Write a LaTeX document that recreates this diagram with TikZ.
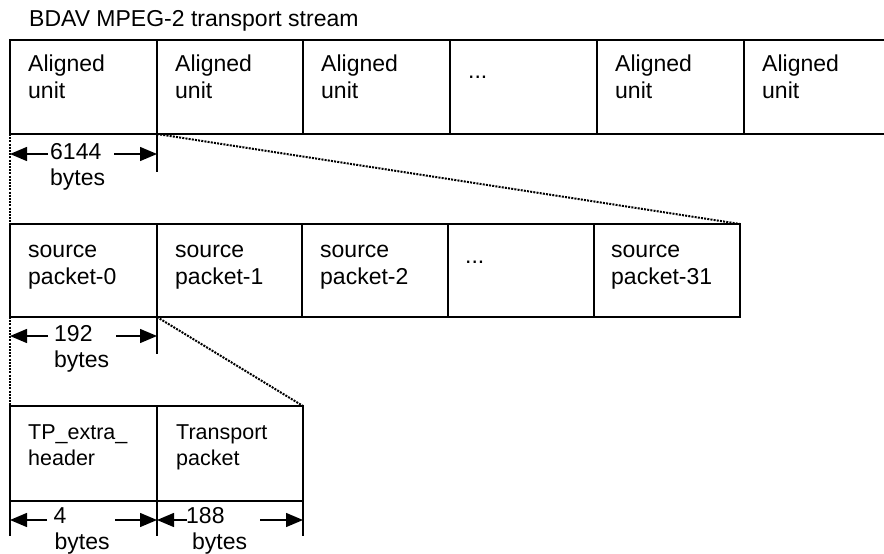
\documentclass[tikz,border=0pt]{standalone}
\usepackage{fontspec}
\setmainfont{Liberation Sans}
\usetikzlibrary{arrows.meta}
\begin{document}
\begin{tikzpicture}[x=1pt,y=-1pt,
  frame/.style={line width=1.4pt},
  cell/.style={draw, line width=1.4pt, anchor=north west, inner sep=0pt, outer sep=0pt},
  toprow/.style={cell, minimum height=94pt},
  midrow/.style={cell, minimum height=93pt},
  botrow/.style={cell, minimum height=95pt},
  txt/.style={anchor=base west, inner sep=0pt, align=left, font=\fontsize{23}{27}\selectfont},
  smalltxt/.style={txt, font=\fontsize{21.5}{26.5}\selectfont},
  dimtxt/.style={txt, font=\fontsize{23}{26}\selectfont},
  dotline/.style={line width=2pt, dash pattern=on 2pt off 1.2pt},
  dimarrow/.style={line width=1.4pt, -{Triangle[length=17pt,width=14pt]}},
]
\useasboundingbox (0,0) rectangle (884,554);

% title
\node[txt] (title) at (29,27) {BDAV MPEG-2 transport stream};

% top row: aligned units (multi-line nodes: base = last line)
\node[toprow, minimum width=147pt] (a1) at (10,40) {};
\node[toprow, minimum width=146pt] (a2) at (157,40) {};
\node[toprow, minimum width=147pt] (a3) at (303,40) {};
\node[toprow, minimum width=147pt] (a4) at (450,40) {};
\node[toprow, minimum width=147pt] (a5) at (597,40) {};
\node[toprow, minimum width=140pt, draw=none] (a6) at (744,40) {};
\draw[frame] (a6.north west) -- (a6.north east) (a6.south west) -- (a6.south east);

\node[txt] (ta1) at (28,98) {Aligned\\unit};
\node[txt] (ta2) at (175,98) {Aligned\\unit};
\node[txt] (ta3) at (321,98) {Aligned\\unit};
\node[txt] (ta4) at (468,78) {...};
\node[txt] (ta5) at (615,98) {Aligned\\unit};
\node[txt] (ta6) at (762,98) {Aligned\\unit};

% middle row: source packets
\node[midrow, minimum width=147pt] (s0) at (10,224) {};
\node[midrow, minimum width=145pt] (s1) at (157,224) {};
\node[midrow, minimum width=146pt] (s2) at (302,224) {};
\node[midrow, minimum width=146pt] (s3) at (448,224) {};
\node[midrow, minimum width=146pt] (s4) at (594,224) {};

\node[txt] (ts0) at (28,284) {source\\packet-0};
\node[txt] (ts1) at (175,284) {source\\packet-1};
\node[txt] (ts2) at (320,284) {source\\packet-2};
\node[txt] (ts3) at (465,263) {...};
\node[txt] (ts4) at (611,284) {source\\packet-31};

% bottom row
\node[botrow, minimum width=147pt] (t0) at (10,406) {};
\node[botrow, minimum width=146pt] (t1) at (157,406) {};

\node[smalltxt] (tt0) at (28,465.5) {TP\_extra\_\\header};
\node[smalltxt] (tt1) at (176,465.5) {Transport\\packet};

% zoom (dotted) lines
\draw[dotline] (a1.south east) -- (s4.north east);
\draw[dotline] (a1.south west) -- (s0.north west);
\draw[dotline] (s0.south east) -- (t1.north east);
\draw[dotline] (s0.south west) -- (t0.north west);

% dimension: 6144 bytes
\draw[frame] (a1.south east) -- ++(0,38);
\coordinate (d1l) at (48,154);
\coordinate (d1r) at (114,154);
\draw[dimarrow] (d1l) -- (a1.south west |- d1l);
\draw[dimarrow] (d1r) -- (a1.south east |- d1r);
\node[dimtxt] (l1) at (50,185) {6144\\bytes};

% dimension: 192 bytes
\draw[frame] (s0.south east) -- ++(0,37);
\coordinate (d2l) at (48,336);
\coordinate (d2r) at (116,336);
\draw[dimarrow] (d2l) -- (s0.south west |- d2l);
\draw[dimarrow] (d2r) -- (s0.south east |- d2r);
\node[dimtxt] (l2) at (54,367) {192\\bytes};

% dimensions: 4 bytes, 188 bytes
\draw[frame] (t0.south west) -- ++(0,35);
\draw[frame] (t0.south east) -- ++(0,35);
\draw[frame] (t1.south east) -- ++(0,35);
\coordinate (d3l) at (47,520);
\coordinate (d3r) at (115,520);
\draw[dimarrow] (d3l) -- (t0.south west |- d3l);
\draw[dimarrow] (d3r) -- (t0.south east |- d3r);
\node[dimtxt] (l3) at (53.5,549.5) {4\\\hspace*{1pt}bytes};
\coordinate (d4l) at (187,520);
\coordinate (d4r) at (260,520);
\draw[dimarrow] (d4l) -- (t1.south west |- d4l);
\draw[dimarrow] (d4r) -- (t1.south east |- d4r);
\node[dimtxt] (l4) at (186,549.5) {188\\\hspace*{6pt}bytes};
\end{tikzpicture}
\end{document}
